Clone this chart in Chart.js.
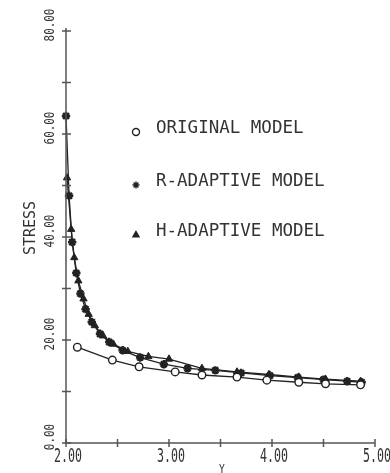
<!DOCTYPE html>
<html>
<head>
<meta charset="utf-8">
<script src="https://cdn.jsdelivr.net/npm/chart.js@4.4.1/dist/chart.umd.min.js"></script>
<style>
  body { margin: 0; background: #fff; }
  #wrap { width: 390px; height: 473px; }
</style>
</head>
<body>
<div id="wrap"><canvas id="graf" width="390" height="473"></canvas></div>
<script>
// values
const seriesNames = ["ORIGINAL MODEL", "R-ADAPTIVE MODEL", "H-ADAPTIVE MODEL"];

const originalX = [2.11, 2.45, 2.71, 3.06, 3.32, 3.66, 3.95, 4.26, 4.52, 4.86];
const originalStress = [18.6, 16.1, 14.8, 13.8, 13.2, 12.8, 12.2, 11.8, 11.5, 11.3];

const rAdaptiveX = [2.00, 2.03, 2.06, 2.10, 2.14, 2.19, 2.25, 2.33, 2.42, 2.55, 2.72, 2.95, 3.18, 3.45, 3.70, 3.98, 4.25, 4.50, 4.73, 4.87];
const rAdaptiveStress = [63.5, 48.0, 39.0, 33.0, 29.0, 26.0, 23.5, 21.2, 19.6, 18.0, 16.6, 15.3, 14.5, 14.1, 13.6, 13.1, 12.7, 12.3, 12.0, 11.8];

const hAdaptiveX = [2.01, 2.05, 2.08, 2.12, 2.17, 2.22, 2.28, 2.36, 2.46, 2.60, 2.80, 3.00, 3.32, 3.66, 3.97, 4.26, 4.52, 4.86];
const hAdaptiveStress = [51.5, 41.5, 36.0, 31.5, 28.0, 25.0, 22.8, 20.8, 19.2, 17.8, 16.8, 16.3, 14.5, 13.8, 13.3, 12.8, 12.4, 12.0];

const xTicks = [2, 2.5, 3, 3.5, 4, 4.5, 5];
const xTickLabels = ["2.00", "", "3.00", "", "4.00", "", "5.00"];
const yTicks = [0, 10, 20, 30, 40, 50, 60, 70, 80];
const yTickLabels = ["0.00", "", "20.00", "", "40.00", "", "60.00", "", "80.00"];

const tinta = "#222";
const pts = (xs, ys) => xs.map((x, i) => ({ x: x, y: ys[i] }));

function texto(ctx, s, x, y, size, sx, rot, align) {
  ctx.save();
  ctx.translate(x, y);
  ctx.rotate(rot || 0);
  ctx.scale(sx, 1);
  ctx.font = size + 'px "DejaVu Sans Mono"';
  ctx.textAlign = align || "center";
  ctx.textBaseline = "middle";
  ctx.fillStyle = "#333";
  ctx.fillText(s, 0, 0);
  ctx.restore();
}

// axes, ticks, labels and legend in the old plotter style
const plotter = {
  id: "plotter",
  afterDraw(chart) {
    const ctx = chart.ctx;
    const sx = chart.scales.x, sy = chart.scales.y;
    const x0 = sx.getPixelForValue(2), x1 = sx.getPixelForValue(5);
    const y0 = sy.getPixelForValue(0), y1 = sy.getPixelForValue(80);

    ctx.save();
    ctx.strokeStyle = "#555";
    ctx.lineWidth = 1.5;
    ctx.beginPath();
    ctx.moveTo(x0, y1 - 3);
    ctx.lineTo(x0, y0);
    ctx.lineTo(x1, y0);
    ctx.stroke();

    yTicks.forEach((v, i) => {
      const py = sy.getPixelForValue(v);
      ctx.beginPath();
      ctx.moveTo(x0 - 4, py);
      ctx.lineTo(x0 + 5, py);
      ctx.stroke();
      if (yTickLabels[i]) texto(ctx, yTickLabels[i], x0 - 16, py - 6, 14, 0.78, -Math.PI / 2);
    });
    xTicks.forEach((v, i) => {
      const px = sx.getPixelForValue(v);
      ctx.beginPath();
      ctx.moveTo(px, y0 - 4);
      ctx.lineTo(px, y0 + 4);
      ctx.stroke();
      if (xTickLabels[i]) texto(ctx, xTickLabels[i], px + 2, y0 + 14, 20, 0.58, 0);
    });
    ctx.restore();

    texto(ctx, "STRESS", 31, 228, 15, 1, -Math.PI / 2);
    texto(ctx, "Y", 222, 470, 12, 0.8, 0);

    // legend
    const filas = [128, 181, 231];
    chart.data.datasets.forEach((ds, i) => {
      ctx.save();
      ctx.fillStyle = ds.pointBackgroundColor;
      ctx.strokeStyle = tinta;
      Chart.helpers.drawPoint(ctx, {
        pointStyle: ds.pointStyle,
        radius: 3.5,
        rotation: 0,
        borderWidth: ds.pointBorderWidth
      }, 136, filas[i] + 4);
      ctx.restore();
      texto(ctx, seriesNames[i], 156, filas[i], 17.5, 1, 0, "left");
    });
  }
};

new Chart(document.getElementById("graf"), {
  type: "scatter",
  data: {
    datasets: [
      {
        label: seriesNames[0],
        data: pts(originalX, originalStress),
        showLine: true,
        borderColor: tinta,
        borderWidth: 1.3,
        pointStyle: "circle",
        pointRadius: 3.8,
        pointBackgroundColor: "#fff",
        pointBorderColor: tinta,
        pointBorderWidth: 1.4,
        clip: false
      },
      {
        label: seriesNames[1],
        data: pts(rAdaptiveX, rAdaptiveStress),
        showLine: true,
        borderColor: tinta,
        borderWidth: 1.3,
        pointStyle: "star",
        pointRadius: 4.2,
        pointBackgroundColor: tinta,
        pointBorderColor: tinta,
        pointBorderWidth: 2.4,
        clip: false
      },
      {
        label: seriesNames[2],
        data: pts(hAdaptiveX, hAdaptiveStress),
        showLine: true,
        borderColor: tinta,
        borderWidth: 1.3,
        pointStyle: "triangle",
        pointRadius: 4.2,
        pointBackgroundColor: tinta,
        pointBorderColor: tinta,
        pointBorderWidth: 1,
        clip: false
      }
    ]
  },
  options: {
    responsive: false,
    animation: false,
    layout: { padding: { left: 66, top: 31, right: 15, bottom: 30 } },
    plugins: { legend: { display: false }, tooltip: { enabled: false } },
    scales: {
      x: { type: "linear", display: false, min: 2, max: 5 },
      y: { type: "linear", display: false, min: 0, max: 80 }
    }
  },
  plugins: [plotter]
});
</script>
</body>
</html>
